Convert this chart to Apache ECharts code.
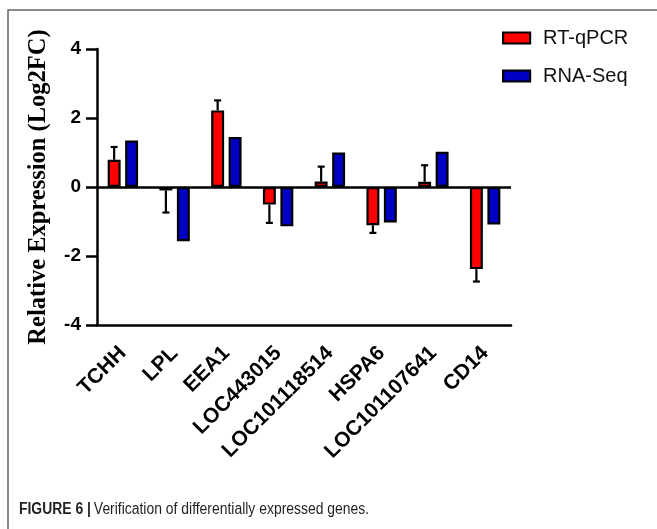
<!DOCTYPE html>
<html>
<head>
<meta charset="utf-8">
<script src="https://cdn.jsdelivr.net/npm/echarts@6/dist/echarts.min.js"></script>
<style>
  html, body { margin: 0; padding: 0; background: #fff; }
  #chart { width: 657px; height: 529px; }
</style>
</head>
<body>
<div id="chart"></div>
<script>
// Genes verified by two methods
const genes = ['TCHH', 'LPL', 'EEA1', 'LOC443015', 'LOC101118514', 'HSPA6', 'LOC101107641', 'CD14'];
// Log2 fold change per method
const rtqpcr = [0.79, -0.10, 2.22, -0.51, 0.16, -1.11, 0.15, -2.38];
const rnaseq = [1.35, -1.57, 1.45, -1.14, 1.00, -1.03, 1.02, -1.09];
// One-sided error (drawn away from zero) for RT-qPCR
const rtqpcrErr = [0.37, 0.64, 0.29, 0.53, 0.43, 0.22, 0.48, 0.36];
// Y axis ticks
const yTicks = [-4, -2, 0, 2, 4];

const BAR_FRAC = 0.25;   // bar width as fraction of category band
const GAP_FRAC = 0.35;   // gap between paired bars as fraction of bar width

const chart = echarts.init(document.getElementById('chart'));

const errData = genes.map((g, i) => [i, rtqpcr[i], rtqpcrErr[i]]);

function renderErr(params, api) {
  const i = api.value(0);
  const v = api.value(1);
  const e = api.value(2);
  const end = v >= 0 ? v + e : v - e;
  const band = api.size([1, 0])[0];
  const w = band * BAR_FRAC;
  const dx = -(w + w * GAP_FRAC) / 2;
  const p0 = api.coord([i, v]);
  const p1 = api.coord([i, end]);
  const x = p0[0] + dx;
  const cap = 3.5;
  const style = { stroke: '#000', lineWidth: 2.2, fill: null };
  return {
    type: 'group',
    children: [
      { type: 'line', shape: { x1: x, y1: p0[1], x2: x, y2: p1[1] }, style: style },
      { type: 'line', shape: { x1: x - cap, y1: p1[1], x2: x + cap, y2: p1[1] }, style: style }
    ]
  };
}

chart.setOption({
  animation: false,
  backgroundColor: '#fff',
  grid: { left: 97, right: 146, top: 49, bottom: 204, containLabel: false },
  legend: {
    orient: 'vertical',
    left: 497,
    top: 23,
    itemWidth: 27,
    itemHeight: 11,
    itemGap: 18,
    icon: 'rect',
    itemStyle: { borderColor: '#000', borderWidth: 2.2 },
    textStyle: { fontFamily: 'Liberation Sans, Arial, sans-serif', fontSize: 20, color: '#111', padding: [3, 0, 0, 8] },
    data: ['RT-qPCR', 'RNA-Seq']
  },
  xAxis: {
    type: 'category',
    data: genes,
    axisLine: { onZero: false, lineStyle: { color: '#000', width: 2.5 } },
    axisTick: { alignWithLabel: true, length: 11, lineStyle: { color: '#000', width: 2.5 } },
    axisLabel: {
      rotate: 45,
      margin: 25,
      interval: 0,
      padding: [14, 0, 0, 0],
      fontFamily: 'Liberation Sans, Arial, sans-serif',
      fontWeight: 'bold',
      fontSize: 21,
      color: '#000'
    },
    splitLine: { show: false }
  },
  yAxis: {
    type: 'value',
    min: yTicks[0],
    max: yTicks[yTicks.length - 1],
    interval: 2,
    name: 'Relative Expression (Log2FC)',
    nameLocation: 'middle',
    nameGap: 46,
    nameTextStyle: { fontFamily: 'Liberation Serif, Times New Roman, serif', fontWeight: 'bold', fontSize: 24.5, color: '#000' },
    axisLine: { show: true, lineStyle: { color: '#000', width: 2.5 } },
    axisTick: { show: true, length: 11, lineStyle: { color: '#000', width: 2.5 } },
    axisLabel: {
      margin: 16,
      fontFamily: 'Liberation Sans, Arial, sans-serif',
      fontWeight: 'bold',
      fontSize: 19,
      color: '#000'
    },
    splitLine: { show: false }
  },
  series: [
    {
      name: 'RT-qPCR',
      type: 'bar',
      data: rtqpcr,
      barWidth: (BAR_FRAC * 100) + '%',
      barGap: (GAP_FRAC * 100) + '%',
      itemStyle: { color: '#ff0000', borderColor: '#000', borderWidth: 2.2 },
      z: 2
    },
    {
      name: 'RNA-Seq',
      type: 'bar',
      data: rnaseq,
      barWidth: (BAR_FRAC * 100) + '%',
      barGap: (GAP_FRAC * 100) + '%',
      itemStyle: { color: '#0000c4', borderColor: '#000', borderWidth: 2.2 },
      z: 2,
      markLine: {
        silent: true,
        symbol: 'none',
        label: { show: false },
        lineStyle: { color: '#000', width: 2.5, type: 'solid' },
        data: [{ yAxis: 0 }],
        z: 4
      }
    },
    {
      name: 'RT-qPCR error',
      type: 'custom',
      renderItem: renderErr,
      data: errData,
      z: 3
    }
  ],
  graphic: [
    {
      type: 'polyline',
      shape: { points: [[8, 529], [8, 10], [657, 10]] },
      style: { stroke: '#666', lineWidth: 1.5, fill: null },
      silent: true
    },
    {
      type: 'text',
      x: 19,
      y: 510,
      scaleX: 0.87,
      style: {
        x: 0,
        y: 0,
        textAlign: 'left',
        textVerticalAlign: 'middle',
        text: '{b|FIGURE 6 |} {r|Verification of differentially expressed genes.}',
        rich: {
          b: { fontFamily: 'Liberation Sans, Arial, sans-serif', fontWeight: 'bold', fontSize: 16, fill: '#231f20' },
          r: { fontFamily: 'Liberation Sans, Arial, sans-serif', fontSize: 16, fill: '#231f20' }
        }
      }
    }
  ]
});
</script>
</body>
</html>
